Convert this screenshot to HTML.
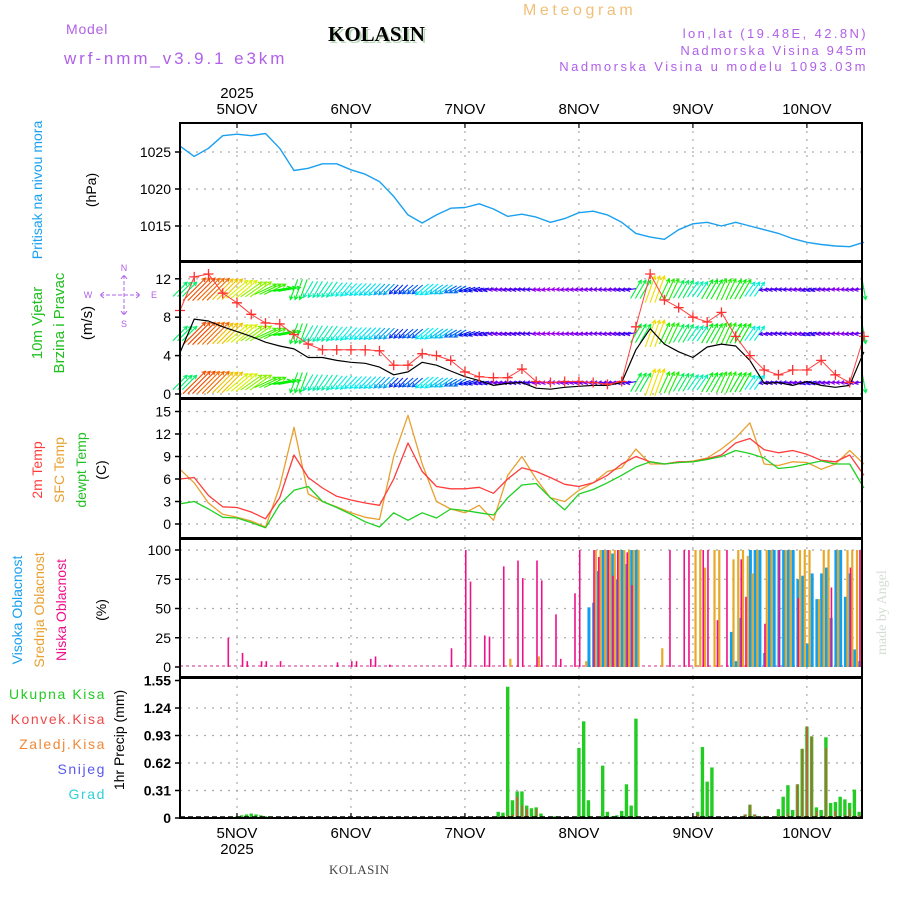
<!DOCTYPE html>
<html><head><meta charset="utf-8"><style>
body{margin:0;background:#fff;}
svg{display:block;font-family:"Liberation Sans",sans-serif;}
</style></head><body>
<svg id="chart" width="900" height="900" viewBox="0 0 900 900" xmlns="http://www.w3.org/2000/svg">
<text x="523" y="15" font-size="16" fill="#f0c078" letter-spacing="3.6">Meteogram</text>
<text x="66" y="34" font-size="14" fill="#b060e8" letter-spacing="0.8">Model</text>
<text x="64" y="64" font-size="17" fill="#b060e8" letter-spacing="2.9">wrf-nmm_v3.9.1 e3km</text>
<text x="330" y="43" font-size="21" font-weight="bold" fill="#b8d8b8" font-family="Liberation Serif,serif">KOLASIN</text>
<text x="328" y="41" font-size="21" font-weight="bold" fill="#000" font-family="Liberation Serif,serif">KOLASIN</text>
<text x="868" y="38" font-size="13" fill="#b060e8" text-anchor="end" letter-spacing="2.4">lon,lat (19.48E, 42.8N)</text>
<text x="868" y="55" font-size="13" fill="#b060e8" text-anchor="end" letter-spacing="2.2">Nadmorska Visina 945m</text>
<text x="868" y="71" font-size="13" fill="#b060e8" text-anchor="end" letter-spacing="2.5">Nadmorska Visina u modelu 1093.03m</text>
<text x="329" y="874" font-size="13" fill="#444" font-family="Liberation Serif,serif" letter-spacing="0.5">KOLASIN</text>
<text transform="translate(886,655) rotate(-90)" font-size="14" fill="#d4dcd4" font-family="Liberation Serif,serif">made by Angel</text>
</svg>
<script>
// ---- data (3-hourly, hours from 4 Nov 12UTC) ----
const hours3 = [];
for (let h = 0; h <= 144; h += 3) hours3.push(h);
const pressure = [1025.8,1024.4,1025.5,1027.2,1027.4,1027.2,1027.5,1025.5,1022.5,1022.8,1023.4,1023.4,1022.6,1022,1021,
1019,1016.5,1015.4,1016.5,1017.4,1017.5,1018,1017.3,1016.3,1016.6,1016.2,1015.5,1016,1016.8,1017,1016.5,1015.5,1014,1013.5,1013.2,1014.5,1015.3,1015.5,1015,1015.5,1015,1014.5,1014,1013.3,1012.8,1012.5,1012.3,1012.2,1012.8];
const windSpeed = [4.3,7.8,7.6,7.0,6.5,6.0,5.4,5.0,4.7,3.8,3.8,3.5,3.3,3.2,2.8,
2.0,2.3,3.3,3.0,2.4,1.8,1.4,0.9,1.1,1.2,0.6,0.5,0.7,0.8,0.9,0.9,1.2,4.6,6.8,5.2,4.4,3.8,4.9,5.2,5.0,3.5,1.1,1.2,0.9,1.3,0.9,0.7,0.9,4.4];
const windGust = [8.7,12.2,12.5,10.5,9.5,8.3,7.4,7.3,6.2,5.2,4.6,4.6,4.6,4.6,4.5,
3.0,3.0,4.2,4.0,3.5,2.3,1.8,1.7,1.7,2.6,1.3,1.2,1.3,1.3,1.2,1.0,1.3,7.0,12.5,9.8,9.0,8.0,7.5,8.5,6.0,4.0,2.5,2.0,2.5,2.5,3.5,2.0,1.2,6.0];
const windDir = [225,225,225,225,230,235,245,260,20,30,35,40,45,45,45,
45,50,50,55,60,70,75,80,80,85,80,85,80,80,85,80,80,210,200,205,210,215,210,205,210,215,80,85,80,75,80,85,80,350];
const temp2m = [6.0,6.2,3.8,2.3,2.2,1.6,0.7,3.5,9.2,6.2,4.8,3.7,3.2,2.8,2.5,
6.0,10.8,7.0,5.0,4.7,4.7,4.9,4.1,6.0,7.5,7.0,6.2,5.3,5.0,5.5,6.5,8.0,9.0,8.3,8.0,8.3,8.3,8.7,9.2,10.8,11.4,9.9,9.5,9.8,9.3,8.5,8.3,9.2,6.5];
const tempSfc = [7.3,5.5,2.8,1.3,0.9,0.4,-0.4,5.0,12.9,4.0,3.0,2.3,1.5,0.9,0.6,
9.0,14.5,8.0,3.0,2.0,1.5,2.5,0.5,6.5,9.0,6.0,3.5,3.0,4.5,5.5,7.0,7.5,10.0,8.0,8.0,8.2,8.4,8.8,10.0,11.5,13.5,8.0,7.8,8.3,8.2,7.3,8.0,9.8,8.0];
const dewpt = [2.7,3.0,2.0,0.9,0.8,0.2,-0.5,2.6,4.5,5.0,3.0,2.2,1.3,0.3,-0.4,
1.5,0.5,1.5,0.8,2.0,1.8,1.5,1.2,3.5,5.2,5.4,3.5,1.9,4.0,4.6,5.5,6.5,7.6,8.3,8.0,8.2,8.3,8.6,9.0,9.8,9.4,8.8,7.4,7.6,8.0,8.4,8.0,8.0,4.8];
// cloud cover (sparse: hour, %)
const lowHours = [10,13,14,17,18,21,33,36,37,40,41,44,57,60,61,64,65,68,71,72,75,76,79,80,83,84,87,88,90,91,92,94,95,103,106,107,110,111,113,115,118,119,123,126,130,137,141,143];
const lowCloud = [25,12,5,5,5,5,4,5,5,7,9,2,16,100,73,27,26,86,91,76,91,74,45,7,63,100,100,94,100,78,100,98,70,100,100,100,100,100,40,100,92,60,37,100,59,68,85,100];
const midHours = [69,75,85,87,88,89,90,91,92,93,94,95,96,101,108,109,110,112,113,116,117,118,119,120,121,123,124,127,128,130,131,132,134,135,136,138,140,141,142,143];
const midCloud = [7,9,5,100,100,100,100,100,100,100,100,100,100,16,100,100,85,100,100,92,100,100,95,80,100,100,100,100,100,100,100,100,58,100,100,100,100,100,100,100];
const highHours = [86,87,88,89,90,91,92,93,94,95,96,116,117,118,120,121,122,123,124,125,126,127,128,129,130,131,132,133,134,135,136,137,138,139,140,141,142,143];
const highCloud = [51,55,82,100,100,97,75,100,88,100,100,30,5,42,100,100,100,12,100,100,100,100,100,100,75,78,20,80,58,80,85,42,100,100,60,80,15,5];
// precipitation (sparse: hour, mm)
const precipHours = [12,13,14,15,16,17,18,67,68,69,70,71,72,73,74,75,76,79,84,85,86,88,89,90,91,92,93,94,95,96,108,109,110,111,112,113,114,119,120,121,123,126,127,128,129,130,131,132,133,134,135,136,137,138,139,140,141,142,143];
const precipTotal = [0.02,0.03,0.04,0.05,0.04,0.03,0.02,0.07,0.06,1.48,0.20,0.30,0.30,0.14,0.11,0.12,0.05,0.02,0.79,1.09,0.20,0.01,0.59,0.07,0.02,0.03,0.08,0.38,0.14,1.12,0.01,0.07,0.80,0.41,0.57,0.01,0.01,0.04,0.15,0.04,0.02,0.10,0.24,0.37,0.09,0.38,0.78,1.03,0.92,0.12,0.09,0.91,0.17,0.18,0.24,0.21,0.17,0.32,0.07];
const precipConv = [0,0,0,0,0,0,0,0,0,0.03,0.04,0.24,0.14,0.10,0.02,0.10,0.02,0,0,0,0,0,0,0,0,0,0,0,0,0,0,0.05,0,0,0,0,0,0.04,0.15,0.04,0.02,0.02,0.02,0.05,0.01,0.38,0.78,1.03,0.92,0.08,0.02,0.79,0.02,0.08,0.02,0.03,0.1,0.02,0.03];
const dayLabels = ["5NOV","6NOV","7NOV","8NOV","9NOV","10NOV"];
const dayHours = [12,36,60,84,108,132];
const pTicks = [1015,1020,1025];
const wTicks = [0,4,8,12];
const tTicks = [0,3,6,9,12,15];
const cTicks = [0,25,50,75,100];
const rTicks = [0,0.31,0.62,0.93,1.24,1.55];

// ---- axes ----
const X0 = 180, X1 = 862;
const xs = h => X0 + h * (X1 - X0) / 143.6;
const yP = p => 152 + (1025 - p) * 7.4;
const yW = v => 394 - v * 9.6;
const yT = t => 524 - t * 7.5;
const yC = c => 667 - c * 1.17;
const yR = r => 818 - r * 88.7;
const panels = [[123,261],[262,398],[399,538],[539,677],[678,818]];

const svg = document.getElementById('chart');
const NS = 'http://www.w3.org/2000/svg';
function mk(tag, attrs, parent) {
  const e = document.createElementNS(NS, tag);
  for (const k in attrs) e.setAttribute(k, attrs[k]);
  (parent || svg).appendChild(e);
  return e;
}

// grids
const gridG = mk('g', {stroke:'#aaa','stroke-width':1.2,'stroke-dasharray':'2,6'});


panels.forEach(([a,b]) => dayHours.forEach(h => {
  const l = mk('line', {x1:xs(h),x2:xs(h),y1:a,y2:b}, gridG);
  
  
}));
function hgrid(ticks, f) { ticks.forEach(v => {
  const l = mk('line', {x1:X0,x2:X1,y1:f(v),y2:f(v)}, gridG);
  
  
});}
hgrid(pTicks, yP); hgrid(wTicks, yW); hgrid(tTicks, yT); hgrid(cTicks.slice(1), yC); hgrid(rTicks.slice(1,5), yR);

// tick labels
function yLabels(ticks, f, fmt, bold, name) { ticks.forEach(v => {
  const t = mk('text', {x:171,y:f(v)+5,'font-size':14,'text-anchor':'end','font-weight':bold?'bold':'normal',fill:'#000'});
  t.textContent = fmt(v);
  
  
  const tk = mk('line', {x1:X0-5,x2:X0,y1:f(v),y2:f(v),stroke:'#000','stroke-width':1.5});
  
  
});}
yLabels(pTicks, yP, v=>String(v), false, 'pressure-tick-label');
yLabels(wTicks, yW, v=>String(v), false, 'wind-tick-label');
yLabels(tTicks, yT, v=>String(v), false, 'temp-tick-label');
yLabels(cTicks, yC, v=>String(v), false, 'cloud-tick-label');
yLabels(rTicks, yR, v=>v===0?'0':v.toFixed(2), true, 'precip-tick-label');

dayLabels.forEach((d,i) => {
  const x = xs(dayHours[i]);
  const t1 = mk('text', {x:x,y:114,'font-size':15,'text-anchor':'middle',fill:'#000'});
  t1.textContent = d;
  
  
  const t2 = mk('text', {x:x,y:838,'font-size':15,'text-anchor':'middle',fill:'#000'});
  t2.textContent = d;
  
  
  [[123,128],[813,818]].forEach(([a,b]) => {
    const tk = mk('line', {x1:x,x2:x,y1:a,y2:b,stroke:'#000','stroke-width':1.2});
    
    
  });
});
[[xs(12),98],[xs(12),854]].forEach(([x,y]) => {
  const t = mk('text', {x:x,y:y,'font-size':15,'text-anchor':'middle',fill:'#000'});
  t.textContent = '2025';
  
  
});

function path(vals, f, color, w, name) {
  const d = vals.map((v,i) => (i?'L':'M') + xs(hours3[i]).toFixed(1) + ',' + f(v).toFixed(1)).join('');
  const p = mk('path', {d:d,fill:'none',stroke:color,'stroke-width':w,'stroke-linejoin':'round'});
  
  
  return p;
}

// pressure
path(pressure, yP, '#1aa0f0', 1.4, 'pressure-line');

// wind arrows
const arrowG = mk('g', {'stroke-width':1.1});


const rows = [10.9, 6.3, 1.2];
windSpeed.forEach((s,i) => {
  const hue = Math.max(10, Math.min(280, 300 - 36*s));
  const col = 'hsl(' + hue + ',100%,47%)';
  const L = 3.3*s + 6;
  const to = (windDir[i] + 180) * Math.PI/180;
  const dx = Math.sin(to)*L, dy = -Math.cos(to)*L;
  for (let k = 0; k < 3; k++) {
    const h = hours3[i] + k;
    if (h > 144) continue;
    rows.forEach(r => {
      const cx = xs(h), cy = yW(r);
      const x1 = cx - dx/2, y1 = cy - dy/2, x2 = cx + dx/2, y2 = cy + dy/2;
      const a = Math.atan2(dy, dx);
      const hd = 'M'+x1.toFixed(1)+','+y1.toFixed(1)+'L'+x2.toFixed(1)+','+y2.toFixed(1)+
        'M'+(x2-4*Math.cos(a-0.5)).toFixed(1)+','+(y2-4*Math.sin(a-0.5)).toFixed(1)+'L'+x2.toFixed(1)+','+y2.toFixed(1)+
        'L'+(x2-4*Math.cos(a+0.5)).toFixed(1)+','+(y2-4*Math.sin(a+0.5)).toFixed(1);
      const p = mk('path', {d:hd,stroke:col,fill:'none'}, arrowG);
      
      
    });
  }
});
path(windSpeed, yW, '#000', 1.2, 'wind-speed-line');
path(windGust, yW, '#ff4040', 1, 'wind-gust-line');
windGust.forEach((g,i) => {
  const x = xs(hours3[i]), y = yW(g);
  const p = mk('path', {d:'M'+(x-5)+','+y+'h10M'+x+','+(y-5)+'v10',stroke:'#ff3030','stroke-width':1.3});
  
  
});

// temperature
path(tempSfc, yT, '#e8a030', 1.3, 'sfc-temp-line');
path(temp2m, yT, '#ff3c3c', 1.3, 'temp-2m-line');
path(dewpt, yT, '#20d020', 1.3, 'dewpoint-line');

// clouds
const cb = mk('line', {x1:X0,x2:X1,y1:666,y2:666,stroke:'#e070b0','stroke-width':1.5,'stroke-dasharray':'3,3'});


function cloudBars(hs, vals, color, off, w, name) { hs.forEach((h,i) => {
  const y = yC(vals[i]);
  const r = mk('rect', {x:xs(h)+off,y:y,width:w,height:667-y,fill:color});
  
  
});}
cloudBars(highHours, highCloud, '#10a0f0', -1, 3, 'high-cloud-bar');
cloudBars(midHours, midCloud, '#e8a828', 1.5, 2.2, 'mid-cloud-bar');
cloudBars(lowHours, lowCloud, '#f0108a', 0, 1.6, 'low-cloud-bar');

// precipitation
precipHours.forEach((h,i) => {
  const y = yR(precipTotal[i]);
  const r = mk('rect', {x:xs(h)-1.7,y:y,width:3.4,height:818-y,fill:'#22cc22'});
  
  
  if (precipConv[i] > 0) {
    const yc = yR(precipConv[i]);
    const c = mk('rect', {x:xs(h)-0.6,y:yc,width:1.4,height:818-yc,fill:'#f04040'});
    
    
  }
});
const pb = mk('line', {x1:X0,x2:X1,y1:817,y2:817,stroke:'#000','stroke-width':1.5,'stroke-dasharray':'5,3'});



// panel frames
panels.forEach(([a,b]) => {
  const r = mk('rect', {x:X0,y:a,width:X1-X0,height:b-a,fill:'none',stroke:'#000','stroke-width':2});
  
  
});

// left axis titles
function vt(x, y, txt, col, size, name) {
  const t = mk('text', {transform:'translate('+x+','+y+') rotate(-90)','font-size':size||14,'text-anchor':'middle',fill:col});
  t.textContent = txt;
  
  
}
vt(42,190,'Pritisak na nivou mora','#1aa0f0',14,'pressure-axis-title');
vt(96,190,'(hPa)','#000',14,'pressure-unit');
vt(42,323,'10m Vjetar','#20c020',15,'wind-axis-title');
vt(64,323,'Brzina i Pravac','#20c020',15,'wind-axis-subtitle');
vt(92,323,'(m/s)','#000',15,'wind-unit');
vt(42,470,'2m Temp','#ff3c3c',14,'temp-2m-title');
vt(64,470,'SFC Temp','#e8a030',14,'sfc-temp-title');
vt(86,470,'dewpt Temp','#20c020',14,'dewpt-title');
vt(106,470,'(C)','#000',14,'temp-unit');
vt(22,610,'Visoka Oblacnost','#1aa0f0',14,'high-cloud-title');
vt(44,610,'Srednja Oblacnost','#e8a030',14,'mid-cloud-title');
vt(66,610,'Niska Oblacnost','#f0108a',14,'low-cloud-title');
vt(106,610,'(%)','#000',14,'cloud-unit');
vt(124,740,'1hr Precip (mm)','#000',14,'precip-axis-title');
[['Ukupna Kisa','#22cc22',699],['Konvek.Kisa','#f04848',724],['Zaledj.Kisa','#f08838',749],['Snijeg','#5858f0',774],['Grad','#30d0d8',799]].forEach(([t,c,y]) => {
  const e = mk('text', {x:106,y:y,'font-size':14,'text-anchor':'end',fill:c,'letter-spacing':1.6});
  e.textContent = t;
  
  
});
// compass
const comp = mk('g', {fill:'#b060e8','font-size':9,'text-anchor':'middle'});


[['N',124,271],['W',88,298],['E',154,298],['S',124,327]].forEach(([t,x,y]) => {
  const e = mk('text', {x:x,y:y}, comp);
  e.textContent = t;
  
  
});
const cl = mk('path', {d:'M100,295h40M124,275v40M104,292l-4,3l4,3M136,292l4,3l-4,3M121,279l3,-4l3,4M121,311l3,4l3,-4',stroke:'#b060e8',fill:'none','stroke-width':1,'stroke-dasharray':'4,2'}, comp);


</script>
</body></html>
